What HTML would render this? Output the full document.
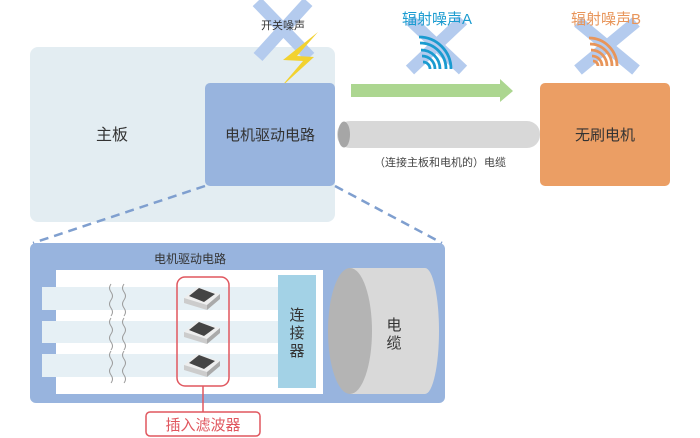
<!DOCTYPE html>
<html><head><meta charset="utf-8"><style>
html,body{margin:0;padding:0;background:#fff;width:700px;height:438px;overflow:hidden}
text{font-family:"Liberation Sans","Noto Sans CJK SC",sans-serif}
</style></head><body>
<svg width="700" height="438" viewBox="0 0 700 438" xmlns="http://www.w3.org/2000/svg">
<rect x="30" y="47" width="305" height="175" rx="8" fill="#e3edf2"/>
<text x="112" y="140" font-size="16" fill="#333" text-anchor="middle">主板</text>
<g stroke="#b4cbee" stroke-width="12" stroke-linecap="butt">
<line x1="257" y1="2" x2="310" y2="57"/><line x1="308" y1="2" x2="258" y2="57"/>
<line x1="410" y1="20" x2="463" y2="70"/><line x1="463" y1="20" x2="410" y2="70"/>
<line x1="578" y1="22" x2="636" y2="70"/><line x1="636" y1="22" x2="578" y2="70"/>
</g>
<text x="283" y="29" font-size="11" fill="#333" text-anchor="middle">开关噪声</text>
<polygon points="318,32 283,60 303,61 280,88 314,57 297,56" fill="#f2d230"/>
<rect x="205" y="83" width="130" height="103" rx="5" fill="#98b4de"/>
<text x="270" y="140" font-size="15" fill="#333" text-anchor="middle">电机驱动电路</text>
<polygon points="351,84 500,84 500,79 513,91 500,102 500,97 351,97" fill="#acd690"/>
<rect x="337" y="121" width="203" height="27" rx="13" fill="#d8d8d8"/>
<ellipse cx="344" cy="134.5" rx="6" ry="13" fill="#a6a6a6"/>
<text x="440" y="166" font-size="11" fill="#444" text-anchor="middle">（连接主板和电机的）电缆</text>
<g fill="none" stroke="#1a9bd0" stroke-width="2.8">
<path d="M419,37 A32,32 0 0 1 451,69"/><path d="M420,43 A26,26 0 0 1 446,69"/><path d="M421,50 A19,19 0 0 1 440,69"/><path d="M422,56 A13,13 0 0 1 435,69"/><path d="M423,62 A7,7 0 0 1 430,69"/>
</g>
<text x="437" y="24" font-size="15" fill="#1a9bd0" text-anchor="middle">辐射噪声A</text>
<g fill="none" stroke="#e8955a" stroke-width="2.8">
<path d="M589,38 A28,28 0 0 1 617,66"/><path d="M590,44 A22,22 0 0 1 612,66"/><path d="M591,50 A16,16 0 0 1 607,66"/><path d="M592,56 A10,10 0 0 1 602,66"/><path d="M593,61 A5,5 0 0 1 598,66"/>
</g>
<text x="606" y="24" font-size="15" fill="#e8955a" text-anchor="middle">辐射噪声B</text>
<rect x="540" y="83" width="130" height="103" rx="5" fill="#eb9e64"/>
<text x="605" y="140" font-size="15" fill="#333" text-anchor="middle">无刷电机</text>
<g stroke="#7f9fcf" stroke-width="2.5" stroke-dasharray="9,6">
<line x1="205" y1="186" x2="33" y2="243"/><line x1="335" y1="186" x2="442" y2="243"/>
</g>
<rect x="30" y="243" width="415" height="160" rx="6" fill="#98b4de"/>
<text x="190" y="263" font-size="12" fill="#333" text-anchor="middle">电机驱动电路</text>
<rect x="56" y="270" width="267" height="124" fill="#fff"/>
<g fill="#e6f0f5">
<rect x="42" y="287" width="238" height="23"/>
<rect x="42" y="321" width="238" height="22"/>
<rect x="42" y="354" width="238" height="23"/>
</g>
<g fill="none" stroke="#999" stroke-width="1">
<path d="M111,284 q-3,4 0,8 q3,4 0,8 q-3,4 0,8 q3,4 0,8"/><path d="M124,284 q-3,4 0,8 q3,4 0,8 q-3,4 0,8 q3,4 0,8"/>
<path d="M111,318 q-3,4 0,8 q3,4 0,8 q-3,4 0,8 q3,4 0,8"/><path d="M124,318 q-3,4 0,8 q3,4 0,8 q-3,4 0,8 q3,4 0,8"/>
<path d="M111,351 q-3,4 0,8 q3,4 0,8 q-3,4 0,8 q3,4 0,8"/><path d="M124,351 q-3,4 0,8 q3,4 0,8 q-3,4 0,8 q3,4 0,8"/>
</g>
<rect x="278" y="275" width="38" height="113" fill="#a3d2e6"/>
<text font-size="15" fill="#333" text-anchor="middle"><tspan x="297" y="320">连</tspan><tspan x="297" y="338">接</tspan><tspan x="297" y="356">器</tspan></text>
<g>
<g transform="translate(184,285)"><polygon points="0,13 13,2 36,9 23,20" fill="#eee"/><polygon points="5,11 15,3 31,9 20,17" fill="#444"/><polygon points="0,13 23,20 23,25 0,18" fill="#ccc"/><polygon points="23,20 36,9 36,14 23,25" fill="#aaa"/></g>
<g transform="translate(184,319)"><polygon points="0,13 13,2 36,9 23,20" fill="#eee"/><polygon points="5,11 15,3 31,9 20,17" fill="#444"/><polygon points="0,13 23,20 23,25 0,18" fill="#ccc"/><polygon points="23,20 36,9 36,14 23,25" fill="#aaa"/></g>
<g transform="translate(184,352)"><polygon points="0,13 13,2 36,9 23,20" fill="#eee"/><polygon points="5,11 15,3 31,9 20,17" fill="#444"/><polygon points="0,13 23,20 23,25 0,18" fill="#ccc"/><polygon points="23,20 36,9 36,14 23,25" fill="#aaa"/></g>
</g>
<rect x="177" y="277" width="52" height="109" rx="8" fill="none" stroke="#e0575f" stroke-width="1.5"/>
<line x1="203" y1="386" x2="203" y2="412" stroke="#e0575f" stroke-width="1.5"/>
<rect x="146" y="412" width="114" height="24" rx="4" fill="#fff" stroke="#e0575f" stroke-width="1.5"/>
<text x="203" y="430" font-size="15" fill="#e0575f" text-anchor="middle">插入滤波器</text>
<path d="M350,268 L425,268 A14,63 0 0 1 425,394 L350,394 Z" fill="#d9d9d9"/>
<ellipse cx="350" cy="331" rx="22" ry="63" fill="#b4b4b4"/>
<text font-size="15" fill="#333" text-anchor="middle"><tspan x="394" y="330">电</tspan><tspan x="394" y="348">缆</tspan></text>
</svg>
</body></html>
